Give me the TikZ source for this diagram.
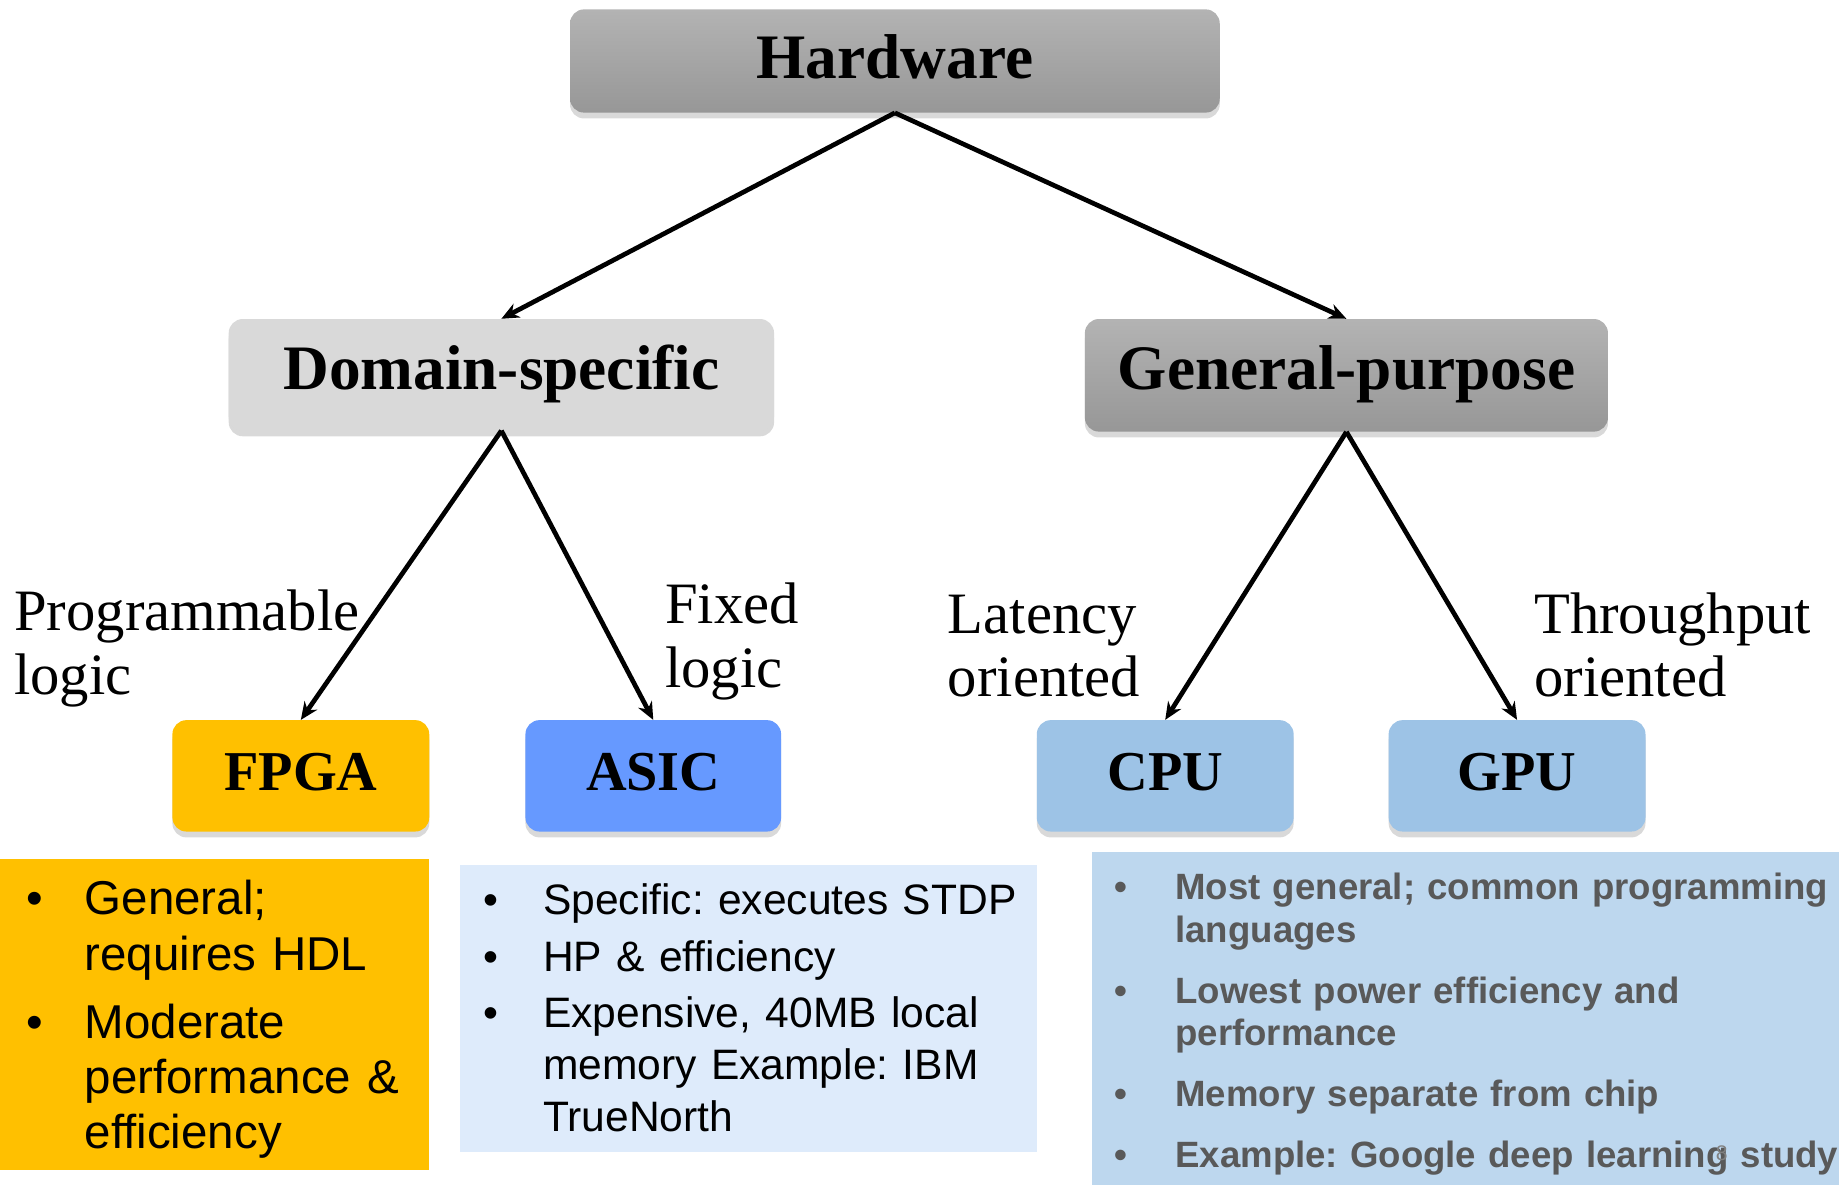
\documentclass[tikz,border=0pt]{standalone}
\usepackage{fontspec}
\setmainfont{Liberation Serif}
\setsansfont{Liberation Sans}
\usetikzlibrary{arrows.meta,shadows}
\definecolor{hwtop}{HTML}{B3B3B3}
\definecolor{hwbot}{HTML}{979797}
\definecolor{dsfill}{HTML}{D9D9D9}
\definecolor{fpgaor}{HTML}{FFC000}
\definecolor{asicbl}{HTML}{6699FF}
\definecolor{cpubl}{HTML}{9DC3E6}
\definecolor{asicpale}{HTML}{DEEBFB}
\definecolor{gppale}{HTML}{BDD7EE}
\definecolor{gptext}{HTML}{595959}
\newcommand{\bitem}[2]{\hangindent=#1\hangafter=1\noindent\makebox[#1][l]{\textbullet}#2\par}
\begin{document}
\frenchspacing
\begin{tikzpicture}[x=1pt,y=-1pt,
  hwbox/.style={rounded corners=12pt, inner sep=0pt, text height=37pt, text depth=12pt,
    drop shadow={shadow xshift=0pt, shadow yshift=-5pt, opacity=0.3},
    font=\bfseries\fontsize{54}{60}\selectfont},
  chipbox/.style={hwbox, minimum width=219pt, minimum height=95pt, text height=33pt, text depth=8pt,
    font=\bfseries\fontsize{48}{54}\selectfont},
  lbl/.style={anchor=north west, inner sep=0pt, align=left, font=\fontsize{50}{54}\selectfont},
  panel/.style={anchor=north west, inner sep=0pt, draw=none},
  arr/.style={line width=4pt, -{Stealth[length=15pt,width=13pt]}}
]
\useasboundingbox (0,0) rectangle (1568,1010);

% tree boxes
\node[hwbox, top color=hwtop, bottom color=hwbot, minimum width=554pt, minimum height=88pt, text depth=7pt] (hw) at (763,52) {Hardware};
\node[hwbox, fill=dsfill, minimum width=465pt, minimum height=95pt] (ds) at (427.5,319.5) {Domain-specific};
\node[hwbox, top color=hwtop, bottom color=hwbot, minimum width=446pt, minimum height=96pt, text depth=13pt] (gp) at (1148,320) {General-purpose};
\node[chipbox, fill=fpgaor] (fpga) at (256.5,661.5) {FPGA};
\node[chipbox, fill=asicbl, minimum width=218pt] (asic) at (557,661.5) {ASIC};
\node[chipbox, fill=cpubl] (cpu) at (993.5,661.5) {CPU};
\node[chipbox, fill=cpubl] (gpu) at (1293.5,661.5) {GPU};

% connectors
\draw[arr] (hw.south) -- (ds.north);
\draw[arr] (hw.south) -- (gp.north);
\draw[arr] (ds.south) -- (fpga.north);
\draw[arr] (ds.south) -- (asic.north);
\draw[arr] (gp.south) -- (cpu.north);
\draw[arr] (gp.south) -- (gpu.north);

% edge labels
\node[lbl] (lprog) at (12,503) {Programmable\\logic};
\node[lbl] (lfix) at (567,497) {Fixed\\logic};
\node[lbl] (llat) at (808,507) {Latency\\oriented};
\node[lbl] (lthr) at (1308,505) {Throughput\\oriented};

% detail panels
\node[panel, fill=fpgaor, minimum width=366pt, minimum height=265pt] (fpgapanel) at (0,732) {};
\node[panel, fill=asicpale, minimum width=492pt, minimum height=245pt] (asicpanel) at (392,737) {};
\node[panel, fill=gppale, minimum width=637pt, minimum height=284pt] (gppanel) at (931,726) {};

\node[anchor=north west, inner sep=0pt, text width=344pt, align=left,
  font=\sffamily\fontsize{40.5}{47}\selectfont] (fpgatext) at (22,750.5) {%
\bitem{50pt}{General;\newline requires HDL}\vspace{11pt}%
\bitem{50pt}{Moderate\newline performance \&\newline efficiency}};

\node[anchor=north west, inner sep=0pt, text width=470pt, align=left,
  font=\sffamily\fontsize{36.3}{44.5}\selectfont] (asictext) at (412,753.5) {%
\bitem{51pt}{Specific: executes STDP}\vspace{3.5pt}%
\bitem{51pt}{HP \& efficiency}\vspace{3.5pt}%
\bitem{51pt}{Expensive, 40MB local\newline memory Example: IBM\newline TrueNorth}};

\node[anchor=north west, inner sep=0pt, text width=660pt, align=left, text=gptext,
  font=\sffamily\bfseries\fontsize{31.2}{36.5}\selectfont] (gptext) at (950,744) {%
\bitem{52pt}{Most general; common programming\newline languages}\vspace{15.5pt}%
\bitem{52pt}{Lowest power efficiency and\newline performance}\vspace{15.5pt}%
\bitem{52pt}{Memory separate from chip}\vspace{15.5pt}%
\bitem{52pt}{Example: Google deep learning study}};

\node[inner sep=0pt, text=gray, font=\sffamily\fontsize{18}{20}\selectfont] (slideno) at (1468,983) {8};
\end{tikzpicture}
\end{document}
